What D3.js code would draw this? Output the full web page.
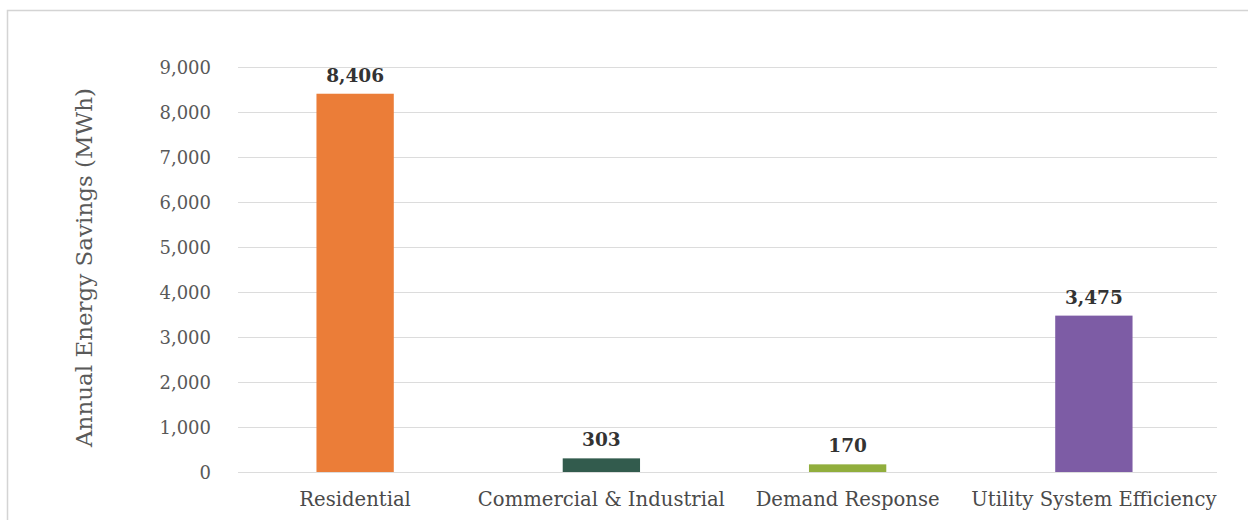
<!DOCTYPE html>
<html>
<head>
<meta charset="utf-8">
<script src="https://cdn.jsdelivr.net/npm/d3@7"></script>
<style>
  html, body { margin: 0; padding: 0; background: #fff; }
  svg { display: block; }
  text { font-family: "DejaVu Serif", "Liberation Serif", serif; }
</style>
</head>
<body>
<svg id="chart" width="1248" height="520"></svg>
<script>
// Annual energy savings by program category
const categories = ["Residential", "Commercial & Industrial", "Demand Response", "Utility System Efficiency"];
const savings = [8406, 303, 170, 3475];
const barColors = ["#EB7D38", "#325B4D", "#91AE3D", "#7D5CA5"];
const yTicks = [0, 1000, 2000, 3000, 4000, 5000, 6000, 7000, 8000, 9000];
const yTitle = "Annual Energy Savings (MWh)";

const svg = d3.select("#chart");
const W = 1248, H = 520;
const plot = { left: 232, right: 1217, top: 67, bottom: 472 };

// outer frame
svg.append("rect")
  .attr("x", 7.5).attr("y", 10.5)
  .attr("width", W + 10).attr("height", H + 10)
  .attr("fill", "#fff")
  .attr("stroke", "#d4d4d4").attr("stroke-width", 1.5);

const x = d3.scaleBand()
  .domain(categories)
  .range([plot.left, plot.right])
  .paddingInner(0.686)
  .paddingOuter(0.343);

const y = d3.scaleLinear()
  .domain([0, 9000])
  .range([plot.bottom, plot.top]);

const fmt = d3.format(",");

// gridlines and tick labels
const yAxis = d3.axisLeft(y)
  .tickValues(yTicks)
  .tickFormat(fmt)
  .tickSize(-(plot.right - 238))
  .tickPadding(27);

const gy = svg.append("g")
  .attr("transform", `translate(238,0)`)
  .call(yAxis);
gy.select(".domain").remove();
gy.selectAll(".tick line").attr("stroke", "#dcdcdc").attr("stroke-width", 1);
gy.selectAll(".tick text")
  .attr("fill", "#595959")
  .style("font-size", "18px")
  .attr("dy", "0.35em");

// y-axis title
svg.append("text")
  .attr("transform", `translate(84,${(plot.top + plot.bottom) / 2 - 2}) rotate(-90)`)
  .attr("text-anchor", "middle")
  .attr("dy", "0.35em")
  .attr("fill", "#595959")
  .style("font-size", "23px")
  .text(yTitle);

// bars
svg.append("g").selectAll("rect")
  .data(categories)
  .join("rect")
  .attr("x", d => x(d))
  .attr("width", x.bandwidth())
  .attr("y", (d, i) => y(savings[i]))
  .attr("height", (d, i) => y(0) - y(savings[i]))
  .attr("fill", (d, i) => barColors[i]);

// value labels
svg.append("g").selectAll("text")
  .data(categories)
  .join("text")
  .attr("x", d => x(d) + x.bandwidth() / 2)
  .attr("y", (d, i) => y(savings[i]) - 12)
  .attr("text-anchor", "middle")
  .attr("fill", "#333")
  .style("font-size", "18.5px")
  .style("font-weight", "bold")
  .text((d, i) => fmt(savings[i]));

// category labels
svg.append("g").selectAll("text")
  .data(categories)
  .join("text")
  .attr("x", d => x(d) + x.bandwidth() / 2)
  .attr("y", 506)
  .attr("text-anchor", "middle")
  .attr("fill", "#4a4a4a")
  .style("font-size", "19.6px")
  .text(d => d);
</script>
</body>
</html>
